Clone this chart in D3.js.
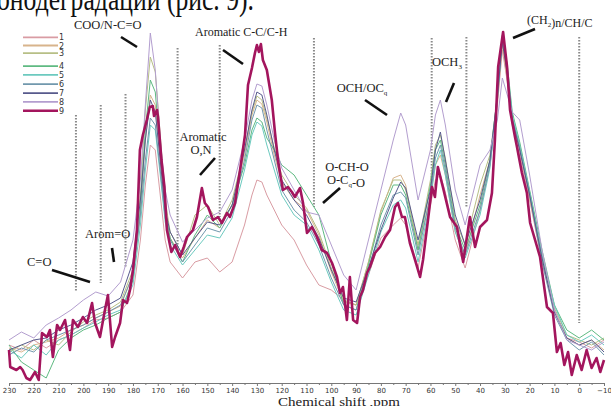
<!DOCTYPE html>
<html><head><meta charset="utf-8">
<script src="https://cdn.jsdelivr.net/npm/d3@7/dist/d3.min.js"></script>
<style>body{margin:0;background:#fff;overflow:hidden}svg{display:block}</style>
</head><body>
<svg id="c" width="611" height="406"></svg>
<script>
// chemical shift grid (ppm) for spectra 1-8
const ppm = [230,225,220,215,210,205,200,195,190,185,180,177,175,173,171,169,167,165,160,155,150,145,140,135,132,130,128,126,123,120,115,110,105,100,95,90,85,80,75,72,70,65,60,58,56,54,50,46,40,36,33,31,29,27,24,20,15,10,5,0,-5,-10];
// intensities (a.u.)
const s1 = [35,30,40,32,40,45,52,60,62,68,85,140,195,235,230,185,140,118,102,118,122,108,118,155,185,200,198,185,170,155,140,115,95,90,80,75,105,142,155,162,155,112,175,200,205,188,140,112,170,215,275,330,298,255,225,180,118,68,42,38,32,40];
const s2 = [32,28,35,38,42,50,55,62,68,74,105,170,240,285,275,220,168,142,122,142,160,152,175,225,265,280,276,258,225,198,180,170,145,108,78,75,118,168,202,205,195,130,185,215,225,205,148,125,185,220,280,335,300,258,230,182,120,70,42,35,40,30];
const s3 = [28,35,30,40,35,48,58,65,70,78,110,185,270,323,308,245,180,148,125,165,175,155,180,230,268,284,280,262,232,205,185,172,148,112,80,75,118,170,200,200,190,135,200,235,245,222,160,135,195,225,282,340,308,262,232,188,125,72,45,40,35,42];
const s4 = [35,18,10,2,30,42,50,55,62,68,100,170,250,300,288,230,170,142,118,145,165,152,175,215,250,262,258,242,230,215,205,185,165,118,75,70,115,165,195,195,185,130,195,230,240,215,155,130,175,220,285,345,315,268,238,190,130,75,50,42,50,40];
const s5 = [30,22,35,25,40,45,52,58,65,70,95,155,210,255,250,205,158,135,115,130,145,142,162,210,245,258,254,235,210,185,165,155,130,98,70,65,105,148,175,180,172,118,180,215,230,205,148,122,165,212,282,344,312,265,235,188,125,75,45,38,45,35];
const s6 = [25,32,28,40,45,50,55,62,68,75,105,165,220,262,255,210,162,140,118,135,152,148,170,220,260,275,272,250,220,190,170,158,135,102,75,70,110,155,185,188,182,125,185,222,235,210,152,125,170,215,280,342,310,262,232,185,118,65,40,30,38,25];
const s7 = [30,35,40,42,50,55,62,70,75,82,118,180,240,280,268,220,170,148,125,142,158,155,175,230,270,288,285,265,230,200,180,165,142,110,82,78,112,150,182,198,192,140,190,230,248,220,165,135,180,220,285,338,305,260,230,185,122,68,42,35,40,28];
const s8 = [40,48,42,55,62,70,80,88,84,98,140,200,275,347,310,240,190,165,138,150,162,168,190,240,280,296,294,275,240,212,190,168,165,135,105,90,140,190,240,267,255,180,230,265,280,255,190,155,215,230,260,302,285,268,260,205,130,70,40,35,30,38];
// spectrum 9 read at its own (denser) ppm positions
const ppm9 = [230,229.5,227,225.5,224.5,223,221.5,219.5,218,216.7,214.7,213.5,212.3,210.6,209.4,207.4,205.4,204.2,202.2,200.2,198.5,196.5,195.3,193.3,191.3,190.1,188.4,187.2,185.2,184,182.4,181.2,180,178.4,177.2,176,174.4,173.2,172,171.5,170.3,169.9,168.5,167.3,166.3,164.5,163,161,159.5,158.2,155.8,154.2,152.2,151,149.7,147.7,145.7,144.1,142.1,140.9,138.8,136.8,134.8,133.6,132,130.8,130,129.2,128.4,127.6,126,124,122.7,121.5,120.7,119.5,117.5,115.9,114.7,112.6,111.4,109.8,107.8,105.8,103.8,101.7,99.7,97.7,96.5,95.3,93.7,92.5,91.2,89.6,88.4,87.2,85.6,84.4,82.4,80.3,78.3,76.3,74.3,73.1,71.5,70.3,68.3,66.2,64.2,63,61,59.4,58.2,57,55,52.1,49.3,46.8,44.1,42,40,37.2,35.2,34,32.7,30.7,29.1,27.9,25.9,25.1,23.1,21.1,19.8,15.8,13,10.6,9,7.5,6,4.5,3,1,-1,-3,-5,-7,-8.5,-10];
const s9 = [30,13,10,13,10,2,0,8,0,47,43,50,23,55,50,60,30,60,53,63,57,77,57,43,70,85,33,43,57,80,77,90,110,150,230,245,260,273,274,264,270,263,220,193,150,128,135,123,133,143,150,163,192,177,173,160,163,157,167,163,177,210,245,295,312,327,335,328,336,320,310,280,247,220,207,190,193,188,183,192,177,147,153,143,130,127,117,103,87,93,60,103,60,57,83,90,107,113,127,133,143,150,173,177,163,163,137,120,103,120,160,193,183,213,193,163,153,118,163,133,153,160,187,240,313,348,313,270,243,233,207,187,157,123,73,67,28,37,15,28,5,25,10,30,12,22,8,20];
const seriesNames = ["1","2","3","4","5","6","7","8","9"];
const seriesColors = ["#d99ca3","#d8b48c","#b7bf86","#5fba82","#6ccabf","#7198ad","#575a8c","#b39ecf","#a3155d"];
// x-axis ticks
const majorTicks = [230,220,210,200,190,180,170,160,150,140,130,120,110,100,90,80,70,60,50,40,30,20,10,0,-10];
const minorTicks = [225,215,205,195,185,175,165,155,145,135,125,115,105,95,85,75,65,55,45,35,25,15,5,-5];
// dotted marker lines: ppm, intensity from, intensity to
const markerPpm = [203,193,183,162,145,107,59.5,45.5,0];
const markerLow = [88,97,113,130,163,173,183,173,57];
const markerHigh = [265,275,286,332,335,342,342,343,343];

const series = [s1,s2,s3,s4,s5,s6,s7,s8,s9];
const seriesPpm = [ppm,ppm,ppm,ppm,ppm,ppm,ppm,ppm,ppm9];
const svg = d3.select("#c");
const x = d3.scaleLinear().domain([230,-10]).range([9,604]);
const y = d3.scaleLinear().domain([0,350]).range([380,30]);

// top cut-off text line (page text above the figure)
svg.append("text").attr("x",-3).attr("y",9.5)
  .attr("font-family","Liberation Serif, Times New Roman, serif").attr("font-size",34)
  .attr("textLength",257).attr("lengthAdjust","spacingAndGlyphs").attr("fill","#111")
  .text("онодеградации (рис. 9).");

// dotted marker lines
svg.append("g").selectAll("line").data(markerPpm).join("line")
  .attr("x1",d=>x(d)).attr("x2",d=>x(d))
  .attr("y1",(d,i)=>y(markerHigh[i])).attr("y2",(d,i)=>y(markerLow[i]))
  .attr("stroke","#8a8a8a").attr("stroke-width",2).attr("stroke-dasharray","1.4,1.6");

// spectra
svg.append("g").selectAll("path").data(series).join("path")
  .attr("d",(d,k)=>d3.line().x((v,i)=>x(seriesPpm[k][i])).y(v=>y(v))(d))
  .attr("fill","none")
  .attr("stroke",(d,i)=>seriesColors[i])
  .attr("stroke-width",(d,i)=>i===8?2.6:1)
  .attr("stroke-linejoin","round");

// axis
const axisG = svg.append("g").attr("transform","translate(0,383)");
axisG.call(d3.axisBottom(x).tickValues(majorTicks).tickSize(3).tickPadding(2).tickFormat(d3.format("d")));
const minorG = svg.append("g").attr("transform","translate(0,383)");
minorG.call(d3.axisBottom(x).tickValues(minorTicks).tickSize(2).tickFormat(""));
minorG.select(".domain").remove();
svg.selectAll(".domain").attr("stroke","#777");
svg.selectAll(".tick line").attr("stroke","#777");
axisG.selectAll(".tick text").attr("font-family","DejaVu Sans, Verdana, sans-serif").attr("font-size",7).attr("fill","#333");

svg.append("text").attr("x",339).attr("y",405.6).attr("text-anchor","middle")
  .attr("font-family","Liberation Serif, Times New Roman, serif").attr("font-size",13.5)
  .attr("textLength",122).attr("lengthAdjust","spacingAndGlyphs").attr("fill","#222")
  .text("Chemical shift ,ppm");

// legend
const legY = [37.3,45.5,53.2,66.2,74.8,84.2,93.2,101.8,110.7];
const leg = svg.append("g");
seriesNames.forEach((n,i)=>{
  leg.append("line").attr("x1",23).attr("x2",58).attr("y1",legY[i]).attr("y2",legY[i])
    .attr("stroke",seriesColors[i]).attr("stroke-width",i===8?2.6:1.8);
  leg.append("text").attr("x",59).attr("y",legY[i]+3).attr("font-family","DejaVu Sans, Verdana, sans-serif")
    .attr("font-size",8).attr("fill","#333").text(n);
});

// annotations
const serif = "Liberation Serif, Times New Roman, serif";
function ann(parts, xPos, yPos, anchor, size){
  const t = svg.append("text").attr("x",xPos).attr("y",yPos).attr("text-anchor",anchor||"start")
    .attr("font-family",serif).attr("font-size",size||12).attr("fill","#222");
  parts.forEach(p=>{
    if(typeof p === "string") t.append("tspan").text(p);
    else { t.append("tspan").attr("dy",3).attr("font-size",7).text(p.sub); t.append("tspan").attr("dy",-3).text(""); }
  });
}
ann(["COO/N-C=O"],74,28.5,"start",12.5);
ann(["Aromatic C-C/C-H"],195,36,"start",12);
ann(["Aromatic"],203,141,"middle",12.5);
ann(["O,N"],201,154,"middle",12.5);
ann(["O-CH-O"],347,171,"middle",12.5);
ann(["O-C",{sub:"q"},"-O"],346,184,"middle",12.5);
ann(["OCH/OC",{sub:"q"}],362,92,"middle",12.5);
ann(["OCH",{sub:"3"}],432,66,"start",12.5);
ann(["(CH",{sub:"2"},")n/CH/C"],527,24,"start",12);
ann(["Arom=O"],85,238,"start",12.5);
ann(["C=O"],27,266,"start",12.5);

const leaders = [[121,37,137,47],[223,50,243,64],[215,158,200,175],[340,188,323,203],[365,100,387,115],[454,83,446,102],[535,29,513,38],[112,248,114,262],[52,270,90,282]];
svg.append("g").selectAll("line").data(leaders).join("line")
  .attr("x1",d=>d[0]).attr("y1",d=>d[1]).attr("x2",d=>d[2]).attr("y2",d=>d[3])
  .attr("stroke","#111").attr("stroke-width",2.6);
</script>
</body></html>
